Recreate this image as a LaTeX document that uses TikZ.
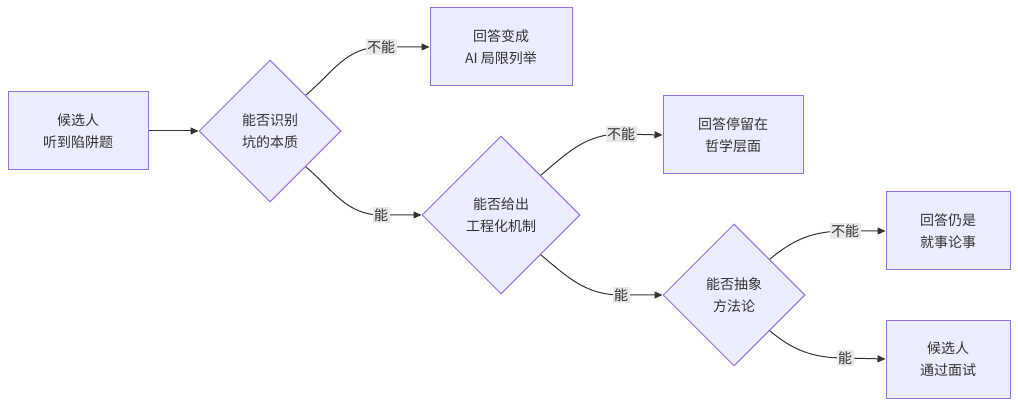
\documentclass[tikz,border=0pt]{standalone}
\usepackage{fontspec}
\setmainfont{Noto Sans CJK SC}
\usetikzlibrary{shapes.geometric,arrows.meta}
\definecolor{nf}{HTML}{ECECFF}
\definecolor{ns}{HTML}{9370DB}
\definecolor{ln}{HTML}{333333}
\definecolor{lb}{HTML}{E8E8E8}
\begin{document}
\begin{tikzpicture}[x=1pt,y=-1pt,
  box/.style={draw=ns,fill=nf,line width=1pt,minimum width=#1,minimum height=78pt,inner sep=0pt,align=center,font=\fontsize{14pt}{22pt}\selectfont,text=ln},
  dia/.style={diamond,aspect=1,draw=ns,fill=nf,line width=1pt,minimum size=#1,inner sep=0pt,align=center,font=\fontsize{14pt}{22pt}\selectfont,text=ln},
  lab/.style={fill=lb,inner sep=1.5pt,font=\fontsize{14pt}{16pt}\selectfont,text=ln},
  edge/.style={draw=ln,line width=1pt,-{Triangle[length=8pt,width=7pt]}}]
\useasboundingbox (0,0) rectangle (1018,406);
\node[box=140pt] (A) at (78,131) {候选人\\听到陷阱题};
\node[dia=142pt] (B) at (270,131) {能否识别\\坑的本质};
\node[box=142pt] (C) at (501,47) {回答变成\\AI 局限列举};
\node[dia=158pt] (D) at (501,215) {能否给出\\工程化机制};
\node[box=140pt] (E) at (733,135) {回答停留在\\哲学层面};
\node[dia=142pt] (F) at (734,295) {能否抽象\\方法论};
\node[box=124pt] (G) at (948,231) {回答仍是\\就事论事};
\node[box=124pt] (H) at (948,359) {候选人\\通过面试};
\coordinate (l1) at (381,47);
\coordinate (l2) at (381,215);
\coordinate (l3) at (621,134);
\coordinate (l4) at (621,295);
\coordinate (l5) at (845,231);
\coordinate (l6) at (845,358);
\draw[edge] (A) -- (B);
\draw[edge] (B.north east) to[out=40,in=180] (l1) -- (C.west);
\draw[edge] (B.south east) to[out=-40,in=180] (l2) -- (D.west);
\draw[edge] (D.north east) to[out=40,in=180] (l3) -- (E.west);
\draw[edge] (D.south east) to[out=-40,in=180] (l4) -- (F.west);
\draw[edge] (F.north east) to[out=40,in=180] (l5) -- (G.west);
\draw[edge] (F.south east) to[out=-40,in=180] (l6) -- (H.west);
\node[lab] (t1) at (l1) {不能};
\node[lab] (t2) at (l2) {能};
\node[lab] (t3) at (l3) {不能};
\node[lab] (t4) at (l4) {能};
\node[lab] (t5) at (l5) {不能};
\node[lab] (t6) at (l6) {能};
\end{tikzpicture}
\end{document}
